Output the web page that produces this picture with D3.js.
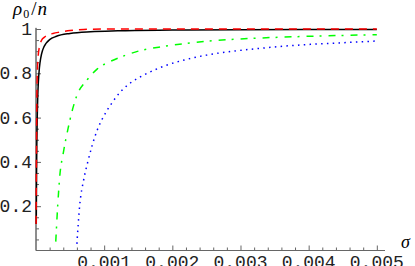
<!DOCTYPE html>
<html>
<head>
<meta charset="utf-8">
<script src="https://cdn.jsdelivr.net/npm/d3@7"></script>
<style>
html,body{margin:0;padding:0;background:#fff;}
svg{display:block;}
</style>
</head>
<body>
<svg id="chart" width="415" height="266"></svg>
<script>
// ---- data ----
const blackSigma = [0.000004,0.000008,0.000012,0.000018,0.000025,0.000035,0.00005,0.00007,0.0001,0.00015,0.0002,0.0003,0.0005,0.0008,0.0012,0.002,0.003,0.004,0.005];
const blackValue = [0.12,0.34,0.476,0.60,0.69,0.762,0.825,0.87,0.907,0.936,0.952,0.967,0.98,0.988,0.992,0.995,0.997,0.9975,0.998];

const redSigma = [0.000002,0.000006,0.00001,0.000015,0.00002,0.00003,0.00005,0.00008,0.00012,0.00018,0.00025,0.00035,0.0005,0.0007,0.001,0.002,0.003,0.004,0.005];
const redValue = [0.12,0.4,0.6,0.74,0.81,0.87,0.92,0.948,0.962,0.973,0.98,0.986,0.993,0.998,1.0,1.0,1.0,1.0,1.0];

const greenSigma = [0.00029,0.00032,0.00035,0.0004,0.00047,0.00053,0.0006,0.00075,0.0009,0.0011,0.0013,0.0015,0.0018,0.0022,0.0026,0.003,0.0035,0.004,0.0045,0.005];
const greenValue = [0.04,0.21,0.34,0.44,0.55,0.63,0.70,0.77,0.82,0.855,0.88,0.90,0.918,0.935,0.947,0.955,0.962,0.967,0.971,0.974];

const blueSigma = [0.0006,0.00064,0.0007,0.00076,0.00082,0.0009,0.001,0.0011,0.00125,0.0014,0.0016,0.0019,0.0022,0.0025,0.0029,0.0033,0.0037,0.0041,0.0045,0.005];
const blueValue = [0.03,0.2,0.32,0.40,0.47,0.545,0.61,0.66,0.72,0.76,0.795,0.835,0.862,0.882,0.9,0.913,0.924,0.932,0.938,0.946];

const xTicks = [0.001,0.002,0.003,0.004,0.005];
const xTickLabels = ["0.001","0.002","0.003","0.004","0.005"];
const yTicks = [0.2,0.4,0.6,0.8,1];
const yTickLabels = ["0.2","0.4","0.6","0.8","1"];
const xMinorTicks = d3.range(1,26).map(i => i*0.0002).filter(v => !xTicks.some(t => Math.abs(t-v) < 1e-9));
const yMinorTicks = d3.range(1,20).map(i => i*0.05).filter(v => !yTicks.some(t => Math.abs(t-v) < 1e-9));

// ---- layout ----
const svg = d3.select("#chart");
const x = d3.scaleLinear().domain([0, 0.00512]).range([36, 385]);
const y = d3.scaleLinear().domain([0, 1]).range([250.5, 29]);

const axisColor = "#666";
const g = svg.append("g");

// x axis
const xAxisMajor = d3.axisTop(x).tickValues(xTicks).tickSize(5).tickFormat("");
const xAxisMinor = d3.axisTop(x).tickValues(xMinorTicks).tickSize(3).tickFormat("");
const gx = g.append("g").attr("transform", `translate(0,${y(0)})`);
gx.call(xAxisMajor);
gx.append("g").call(xAxisMinor);
gx.selectAll(".domain").attr("d", `M${x(0)},0H${x(0.00512)}`);
gx.selectAll("path,line").attr("stroke", axisColor).attr("stroke-width", 1);

// y axis
const yAxisMajor = d3.axisRight(y).tickValues(yTicks).tickSize(5).tickFormat("");
const yAxisMinor = d3.axisRight(y).tickValues(yMinorTicks).tickSize(3).tickFormat("");
const gy = g.append("g").attr("transform", `translate(${x(0)},0)`);
gy.call(yAxisMajor);
gy.append("g").call(yAxisMinor);
gy.selectAll(".domain").attr("d", `M0,${y(0)}V${y(1.005)}`);
gy.selectAll("path,line").attr("stroke", axisColor).attr("stroke-width", 1);

// tick labels
const monoFont = "'Liberation Mono', 'DejaVu Sans Mono', monospace";
g.selectAll(".xlab").data(xTicks).enter().append("text")
  .attr("x", d => x(d)).attr("y", 268)
  .attr("text-anchor", "middle")
  .style("font-family", monoFont).style("font-size", "18px").attr("fill", "#222")
  .text((d,i) => xTickLabels[i]);
g.selectAll(".ylab").data(yTicks).enter().append("text")
  .attr("x", 32).attr("y", d => y(d) + 6)
  .attr("text-anchor", "end")
  .style("font-family", monoFont).style("font-size", "18px").attr("fill", "#222")
  .text((d,i) => yTickLabels[i]);

// axis labels
const serif = "'Liberation Serif', 'DejaVu Serif', serif";
const yl = g.append("text").attr("x", 13).attr("y", 15)
  .style("font-family", serif).style("font-size", "19px").attr("fill", "#000");
yl.append("tspan").style("font-style", "italic").text("ρ");
yl.append("tspan").attr("dy", 3).attr("dx", 1).style("font-size", "12px").text("0");
yl.append("tspan").attr("dy", -3).attr("dx", 2).text("/");
yl.append("tspan").attr("dx", 1).style("font-style", "italic").text("n");

g.append("text").attr("x", 401).attr("y", 248)
  .style("font-family", serif).style("font-size", "18px")
  .style("font-style", "italic").attr("fill", "#000").text("σ");

// curves
const line = d3.line().x(d => x(d[0])).y(d => y(d[1])).curve(d3.curveMonotoneX);
const series = [
  {s: blackSigma, v: blackValue, color: "#000", dash: null, w: 1.5},
  {s: greenSigma, v: greenValue, color: "#00ff00", dash: "7,6,2,7", w: 1.5},
  {s: blueSigma, v: blueValue, color: "#0000ff", dash: "1.5,4.3", w: 1.5},
  {s: redSigma, v: redValue, color: "#ff0000", dash: "8,6", w: 1.5}
];
series.forEach(sr => {
  const pts = sr.s.map((d,i) => [d, sr.v[i]]);
  const p = g.append("path").datum(pts).attr("d", line)
    .attr("fill", "none").attr("stroke", sr.color).attr("stroke-width", sr.w);
  if (sr.dash) p.attr("stroke-dasharray", sr.dash);
});
</script>
</body>
</html>
